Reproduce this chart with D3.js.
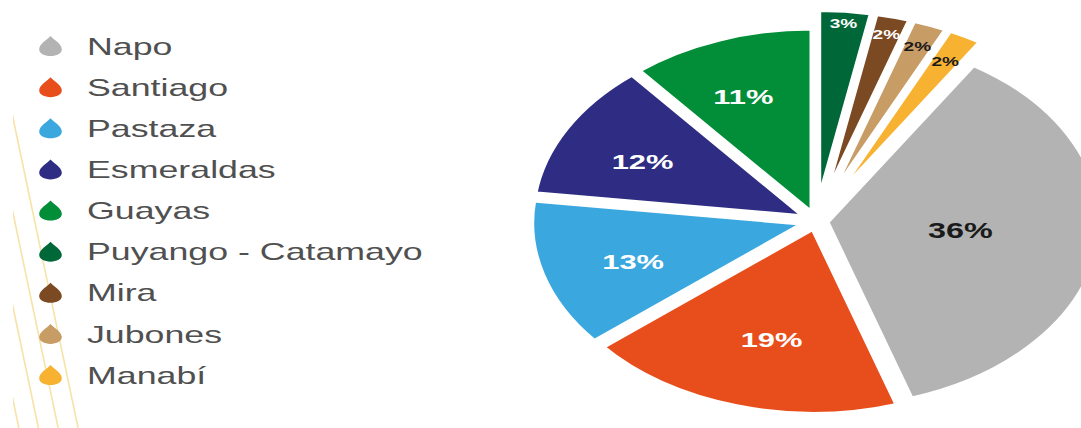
<!DOCTYPE html>
<html>
<head>
<meta charset="utf-8">
<script src="https://cdn.jsdelivr.net/npm/d3@7"></script>
<style>
  html, body { margin: 0; padding: 0; background: #ffffff; }
  svg { display: block; }
  text { font-family: "Liberation Sans", Arial, Helvetica, sans-serif; }
</style>
</head>
<body>
<svg id="chart" width="1081" height="428"></svg>
<script>
// ---- data ----
const categories = ["Puyango - Catamayo", "Mira", "Jubones", "Manabí", "Napo", "Santiago", "Pastaza", "Esmeraldas", "Guayas"];
const values = [3, 2, 2, 2, 36, 19, 13, 12, 11];
const colors = ["#006838", "#7b4a23", "#c79c65", "#f7b232", "#b3b3b3", "#e84e1b", "#3aa8df", "#2e2d83", "#028e38"];
const legendOrder = ["Napo", "Santiago", "Pastaza", "Esmeraldas", "Guayas", "Puyango - Catamayo", "Mira", "Jubones", "Manabí"];

// ---- layout ----
const W = 1081, H = 428;
const SX = 1.47;            // horizontal stretch of the pie
const LSX = 1.49;           // horizontal stretch of the legend
const cx = 816, cy = 221;   // pie centre (screen px)
const R = 187, Rsmall = 196;
const svg = d3.select("#chart");

// faint decorative lines at the left
svg.append("clipPath").attr("id", "decoClip").append("rect")
  .attr("x", 13).attr("y", 0).attr("width", 200).attr("height", H);
const deco = svg.append("g").attr("clip-path", "url(#decoClip)");
[118, 213, 307, 400].forEach(y0 => {
  deco.append("line")
    .attr("x1", 13 - 0.21 * 60).attr("y1", y0 - 60)
    .attr("x2", 13 + 0.21 * (H - y0)).attr("y2", H)
    .attr("stroke", "#f5df9a").attr("stroke-width", 1.6).attr("opacity", 0.85);
});

const g = svg.append("g").attr("transform", `scale(${SX},1)`);

// ---- pie ----
const data = categories.map((c, i) => ({ name: c, value: values[i], color: colors[i] }));
const pie = d3.pie().value(d => d.value).sort(null).startAngle(0).endAngle(2 * Math.PI);
const arcs = pie(data);
const isSmall = d => d.data.value < 5;
const arcGen = d3.arc().innerRadius(0);
const mid = d => (d.startAngle + d.endAngle) / 2;
const labelR = d => isSmall(d) ? Rsmall * (0.95 - 0.2 * mid(d)) : R * (0.76 - 0.0075 * d.data.value);
const labelA = d => isSmall(d) ? mid(d) : mid(d) - 0.035;

const pieG = g.append("g").attr("transform", `translate(${cx / SX},${cy})`);

const slice = pieG.selectAll("g.slice").data(arcs).join("g")
  .attr("class", "slice")
  .attr("transform", d => {
    const off = isSmall(d) ? 16 : 7;
    return `translate(${Math.sin(mid(d)) * off},${-Math.cos(mid(d)) * off})`;
  });

slice.append("path")
  .attr("d", d => arcGen.outerRadius(isSmall(d) ? Rsmall : R)(d))
  .attr("fill", d => d.data.color)
  .attr("stroke", "#ffffff")
  .attr("stroke-width", 6)
  .attr("stroke-linejoin", "round")
  .attr("vector-effect", "non-scaling-stroke");

slice.append("text")
  .attr("x", d => Math.sin(labelA(d)) * labelR(d))
  .attr("y", d => -Math.cos(labelA(d)) * labelR(d))
  .attr("dy", "0.35em")
  .attr("text-anchor", "middle")
  .attr("font-weight", "bold")
  .attr("font-size", d => isSmall(d) ? 13 : (d.data.value > 30 ? 22 : 21))
  .attr("fill", d => d3.lab(d.data.color).l > 66 ? "#1a1a1a" : "#ffffff")
  .text(d => d.data.value + "%");

// ---- legend ----
const dropPath = "M0,-10 C1.8,-6.5 7.6,-2.5 7.6,3.2 C7.6,7.6 4.2,10 0,10 C-4.2,10 -7.6,7.6 -7.6,3.2 C-7.6,-2.5 -1.8,-6.5 0,-10Z";
const legendY = d3.scalePoint().domain(legendOrder).range([46, 375]);
const legend = svg.append("g").attr("transform", `scale(${LSX},1)`);
const item = legend.selectAll("g").data(legendOrder).join("g")
  .attr("transform", d => `translate(0,${legendY(d)})`);
item.append("path")
  .attr("d", dropPath)
  .attr("transform", `translate(${50.5 / LSX},0)`)
  .attr("fill", d => colors[categories.indexOf(d)]);
item.append("text")
  .attr("x", 87 / LSX)
  .attr("dy", "0.36em")
  .attr("font-size", 24)
  .attr("fill", "#505050")
  .text(d => d);
</script>
</body>
</html>
